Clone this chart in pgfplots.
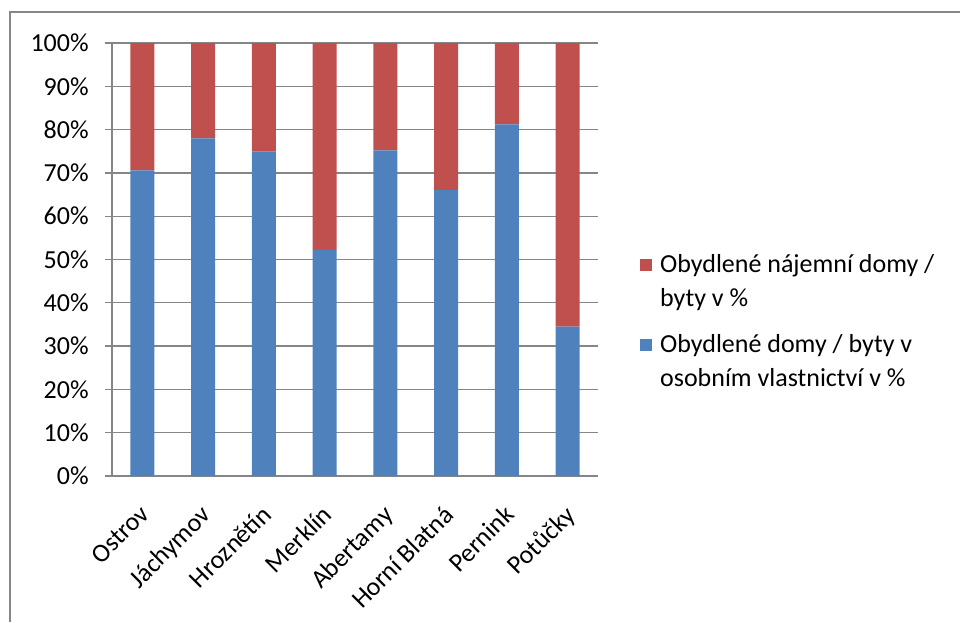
\documentclass[border=0pt]{standalone}
\usepackage{pgfplots}
\pgfplotsset{compat=1.18}
\usepackage{fontspec}
\setmainfont{Carlito}
\definecolor{OwnBlue}{HTML}{4F81BD}
\definecolor{RentRed}{HTML}{C0504D}
\definecolor{GridGray}{HTML}{868686}

\pgfplotstableread{
x name own rent
0 Ostrov 70.6 29.4
1 Jachymov 78.0 22.0
2 Hroznetin 75.0 25.0
3 Merklin 52.2 47.8
4 Abertamy 75.2 24.8
5 HorniBlatna 66.0 34.0
6 Pernink 81.2 18.8
7 Potucky 34.5 65.5
}\shares

\begin{document}
\begin{tikzpicture}[x=0.75pt,y=0.75pt]
  % page size: 960 x 622 px, axis lower left at (0,0)
  \useasboundingbox (-112,-146) rectangle (848,476);
  \draw[GridGray, line width=1.5pt] (-102,-146) -- (-102,464) -- (848,464);
  \begin{axis}[
    at={(0,0)}, anchor=south west,
    scale only axis,
    width=364.5pt, height=324.75pt,
    ybar stacked,
    bar width=18pt,
    xmin=-0.5, xmax=7.5,
    ymin=0, ymax=100,
    xtick={0,...,7},
    xticklabels={Ostrov, Jáchymov, Hroznětín, Merklín, Abertamy, Horní Blatná, Pernink, Potůčky},
    major x tick style={draw=none},
    extra x ticks={-0.5,0.5,1.5,2.5,3.5,4.5,5.5,6.5,7.5},
    extra x tick labels={},
    extra x tick style={major tick length=6pt, tick style={GridGray, line width=1pt}},
    ytick={0,10,...,100},
    yticklabel={\pgfmathprintnumber{\tick}\%},
    /pgf/number format/assume math mode=true,
    ymajorgrids,
    grid style={GridGray, line width=1pt},
    axis x line*=bottom,
    axis y line*=left,
    axis line style={GridGray, line width=1pt, -},
    tick align=outside,
    major tick length=5pt,
    tick style={GridGray, line width=1pt},
    ticklabel style={font=\fontsize{19.5}{23}\selectfont, text=black},
    xticklabel style={rotate=45, anchor=north east, inner sep=2pt, xshift=-11pt, yshift=-7pt},
    yticklabel style={xshift=-9pt},
    reverse legend,
    legend style={at={(1.078,0.357)}, anchor=west, draw=none, fill=none,
      font=\fontsize{19.5}{25}\selectfont, row sep=16pt,
      cells={anchor=west, align=left}},
    legend image code/.code={
      \path[draw=none, fill=none] (0pt,-17pt) rectangle (13pt,17pt);
      \fill[#1] (0pt,8pt) rectangle (9pt,17pt);},
  ]
    \addplot[fill=OwnBlue, draw=none] table[x=x, y=own] {\shares};
    \addplot[fill=RentRed, draw=none] table[x=x, y=rent] {\shares};
    \legend{{Obydlené domy / byty v\\osobním vlastnictví v \%},
            {Obydlené nájemní domy /\\byty v \%}}
  \end{axis}
\end{tikzpicture}
\end{document}
